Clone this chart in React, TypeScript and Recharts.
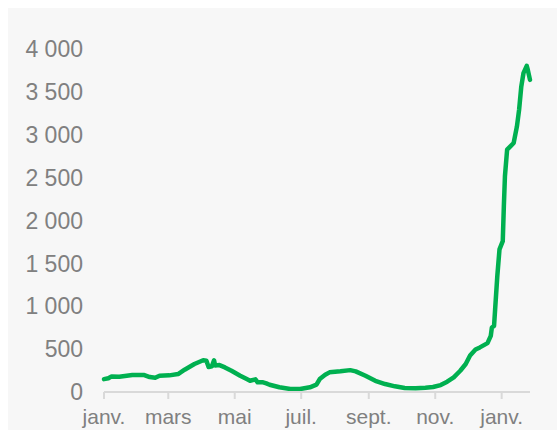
import { CartesianGrid, Line, LineChart, XAxis, YAxis } from "recharts"

// days since 1 Jan 2021
const dayIndex = [
  0, 4, 7, 14, 26, 37, 42, 47, 51, 60, 68, 74, 83, 91, 94, 96, 99, 101, 102, 106,
  111, 117, 125, 131, 134, 139, 141, 146, 149, 152, 161, 171, 180, 189, 195, 198,
  203, 207, 217, 226, 231, 240, 249, 258, 267, 276, 286, 295, 302, 309, 315, 321,
  327, 332, 336, 341, 345, 352, 355, 356, 358, 359, 361, 363, 366, 367, 368, 370,
  373, 376, 379, 381, 383, 385, 388, 389, 391,
]

const incidence = [
  150, 160, 182, 178, 198, 198, 174, 166, 190, 194, 209, 260, 326, 370, 364, 291,
  300, 370, 310, 314, 287, 248, 190, 151, 131, 148, 113, 113, 101, 85, 55, 35, 35,
  55, 85, 151, 201, 229, 241, 255, 241, 190, 131, 93, 66, 47, 43, 50, 58, 81, 120,
  171, 248, 326, 425, 495, 520, 570, 655, 752, 771, 965, 1353, 1663, 1760, 2167,
  2516, 2826, 2865, 2904, 3097, 3291, 3562, 3718, 3803, 3756, 3640,
]

const monthTicks = [0, 59, 120, 181, 243, 304, 365]
const monthLabels = ["janv.", "mars", "mai", "juil.", "sept.", "nov.", "janv."]
const yTicks = [0, 500, 1000, 1500, 2000, 2500, 3000, 3500, 4000]

const formatThousands = (v: number) =>
  String(v).replace(/\B(?=(\d{3})+(?!\d))/g, " ")

export default function App() {
  const chartData = dayIndex.map((day, i) => ({ day, value: incidence[i] }))

  return (
    <div
      style={{
        position: "absolute",
        left: 8,
        top: 8,
        width: 549,
        height: 422,
        background: "#f7f7f7",
        fontFamily: "'Liberation Sans', Arial, sans-serif",
      }}
    >
      <LineChart
        width={549}
        height={422}
        data={chartData}
        margin={{ top: 41, right: 27, left: 0, bottom: 7 }}
      >
        <CartesianGrid horizontal={false} vertical={false} />
        <XAxis
          dataKey="day"
          type="number"
          domain={[0, 391]}
          ticks={monthTicks}
          tickFormatter={(d: number) => monthLabels[monthTicks.indexOf(d)]}
          height={31}
          stroke="#d9d9d9"
          strokeWidth={2}
          tickSize={7}
          tickMargin={10}
          tick={{ fill: "#808080", fontSize: 21 }}
          interval={0}
        />
        <YAxis
          domain={[0, 4000]}
          ticks={yTicks}
          width={96}
          axisLine={false}
          tickLine={false}
          tickSize={0}
          tickMargin={21}
          tickFormatter={formatThousands}
          tick={{ fill: "#808080", fontSize: 23 }}
          interval={0}
        />
        <Line
          type="linear"
          dataKey="value"
          stroke="#00b050"
          strokeWidth={4.5}
          strokeLinejoin="round"
          strokeLinecap="round"
          dot={false}
          isAnimationActive={false}
        />
      </LineChart>
    </div>
  )
}
